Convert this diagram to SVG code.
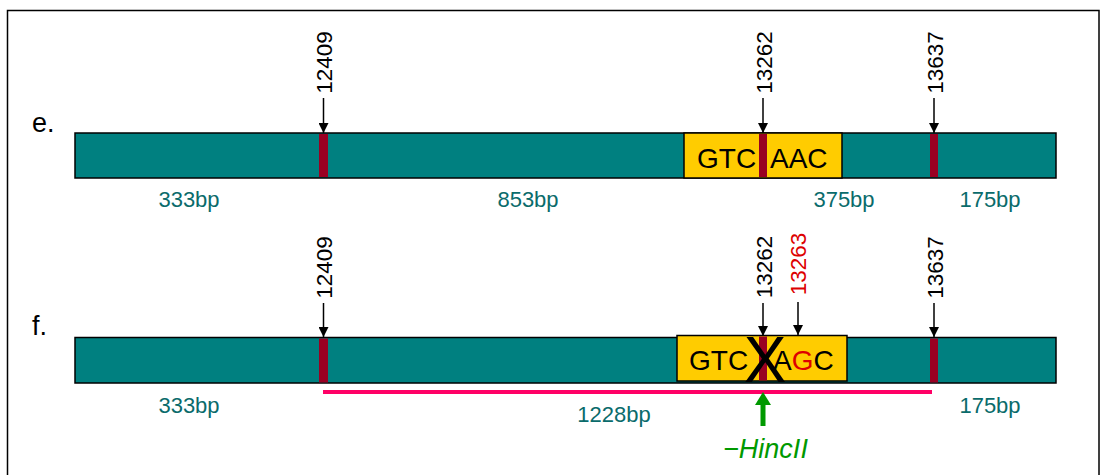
<svg xmlns="http://www.w3.org/2000/svg" width="1101" height="475" viewBox="0 0 1101 475">
<defs>
<marker id="ah" viewBox="0 0 10 10" refX="10" refY="5" markerWidth="10" markerHeight="10" markerUnits="userSpaceOnUse" orient="auto">
<path d="M0,0 L10,5 L0,10 z" fill="#000"/>
</marker>
</defs>
<style>
text{font-family:"Liberation Sans",Arial,sans-serif}
.bar{fill:#008080;stroke:#000;stroke-width:1.5}
.box{fill:#FFCC00;stroke:#000;stroke-width:1.5}
.mk{fill:#990022}
.lbl{font-size:22.5px;fill:#000}
.red{fill:#DD0000}
.bp{font-size:22px;fill:#0A6B6B;text-anchor:middle}
.seq{font-size:28px;fill:#000}
.arr{stroke:#000;stroke-width:1.5;fill:none;marker-end:url(#ah)}
.row{font-size:27px;fill:#000}
</style>
<rect x="7.5" y="10.5" width="1091.5" height="500" fill="#fff" stroke="#000" stroke-width="1.5"/>

<g id="row-e">
<text class="row" x="32" y="132">e.</text>
<rect class="bar" x="75" y="133" width="981" height="45"/>
<rect class="box" x="684" y="133" width="158" height="45"/>
<rect class="mk" x="319" y="134" width="9" height="43"/>
<rect class="mk" x="759" y="134" width="8" height="43"/>
<rect class="mk" x="930" y="134" width="8" height="43"/>
<text class="seq" x="697" y="168">GTC</text>
<text class="seq" x="770" y="168">AAC</text>
<text class="lbl" transform="translate(331.5,62.5) rotate(-90)" text-anchor="middle">12409</text>
<text class="lbl" transform="translate(771.5,62.5) rotate(-90)" text-anchor="middle">13262</text>
<text class="lbl" transform="translate(942.5,62.5) rotate(-90)" text-anchor="middle">13637</text>
<text class="bp" x="189" y="207">333bp</text>
<text class="bp" x="528" y="207">853bp</text>
<text class="bp" x="844" y="207">375bp</text>
<text class="bp" x="990" y="207">175bp</text>
</g>

<g id="row-f">
<text class="row" x="32" y="335">f.</text>
<rect class="bar" x="75" y="337.5" width="981" height="45.5"/>
<rect class="box" x="677" y="335.5" width="170" height="45.5"/>
<rect class="mk" x="319" y="338.5" width="9" height="44"/>
<rect class="mk" x="759" y="336.5" width="8" height="44"/>
<rect class="mk" x="930" y="338.5" width="8" height="44"/>
<text class="seq" x="689" y="370">GTC</text>
<text class="seq" x="773" y="370">A<tspan class="red">G</tspan>C</text>
<text x="765" y="382" font-size="64" text-anchor="middle" fill="#000">X</text>
<text class="lbl" transform="translate(331.5,267.5) rotate(-90)" text-anchor="middle">12409</text>
<text class="lbl" transform="translate(771.5,267) rotate(-90)" text-anchor="middle">13262</text>
<text class="lbl red" transform="translate(806,264) rotate(-90)" text-anchor="middle">13263</text>
<text class="lbl" transform="translate(942.5,267.5) rotate(-90)" text-anchor="middle">13637</text>
<text class="bp" x="189" y="413">333bp</text>
<text class="bp" x="614" y="422">1228bp</text>
<text class="bp" x="990" y="413">175bp</text>
<rect x="323" y="390" width="609" height="4" fill="#FF0066"/>
<g id="hincii">
<rect x="760.5" y="403" width="5" height="23" fill="#009900"/>
<path d="M755,405 L771,405 L763,392 z" fill="#009900"/>
<text x="765.5" y="458" font-size="27" font-style="italic" text-anchor="middle" fill="#009900">−HincII</text>
</g>
</g>

<g id="connectors">
<line class="arr" x1="323.5" y1="98" x2="323.5" y2="133"/>
<line class="arr" x1="763" y1="98" x2="763" y2="133"/>
<line class="arr" x1="934" y1="98" x2="934" y2="133"/>
<line class="arr" x1="323.5" y1="303" x2="323.5" y2="337"/>
<line class="arr" x1="763" y1="303" x2="763" y2="336"/>
<line class="arr" x1="798" y1="302" x2="798" y2="335"/>
<line class="arr" x1="934" y1="303" x2="934" y2="337"/>
</g>
</svg>
